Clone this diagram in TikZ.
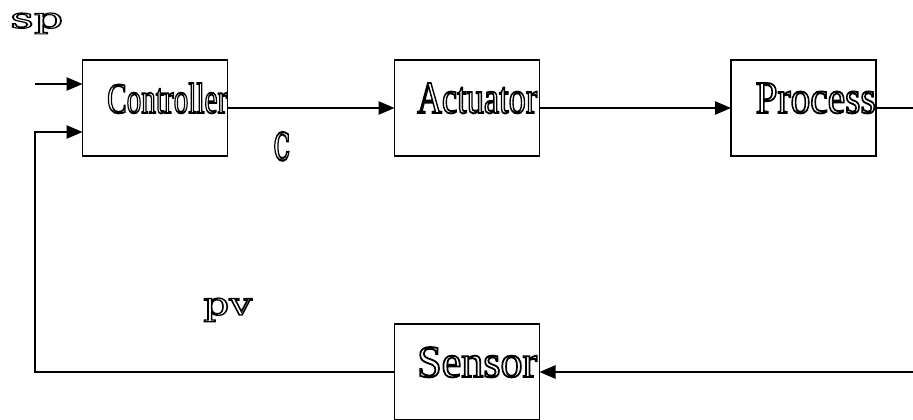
\documentclass[tikz,border=0pt]{standalone}
\usepackage{fontspec}
\setmainfont{Liberation Serif}
\newfontfamily\lblfont{DejaVu Serif}
\usetikzlibrary{arrows.meta,calc}

% hollow lettering: glyphs stroked only (text render mode 1), state saved and restored
\newcommand{\hollow}[2][0.4]{%
  \special{pdf:literal direct q 1 Tr #1 w}#2\special{pdf:literal direct Q}}
\newcommand{\blocktext}[1]{\resizebox{90pt}{22.5pt}{\rmfamily\hollow{#1}}}
\newcommand{\lbltext}[3]{\resizebox{#1}{#2}{\lblfont\hollow[0.4]{#3}}}

\begin{document}
\begin{tikzpicture}[x=0.75pt,y=-0.75pt,
  blk/.style={draw,line width=1.3pt,minimum width=108.75pt,minimum height=72pt,inner sep=0pt,outer sep=0pt},
  txt/.style={inner sep=0pt,anchor=base east},
  lbl/.style={inner sep=0pt,anchor=base west},
  flow/.style={line width=1.2pt,-{Triangle[length=12pt,width=10pt]}}]
\useasboundingbox (0,0) rectangle (913,419);
\clip (0,0) rectangle (913,419);

% blocks
\node[blk] (ctrl) at (155,108) {};
\node[blk] (act)  at (467,108) {};
\node[blk] (proc) at (803.5,108) {};
\node[blk] (sens) at (467,372) {};

% block captions
\node[txt] (ctrltxt) at ($(ctrl.east)+(0,5)$)  {\blocktext{Controller}};
\node[txt] (acttxt)  at ($(act.east)+(-2,5)$)  {\blocktext{Actuator}};
\node[txt] (proctxt) at ($(proc.east)+(0,5)$)  {\blocktext{Process}};
\node[txt] (senstxt) at ($(sens.east)+(-2,5)$) {\blocktext{Sensor}};

% signal labels
\node[lbl] (sp) at (10,28)  {\lbltext{39.75pt}{11.25pt}{sp}};
\node[lbl] (c)  at (273,160) {\lbltext{12.75pt}{21pt}{c}};
\node[lbl] (pv) at (203,315) {\lbltext{36.75pt}{12.75pt}{pv}};

% connectors
\coordinate (spin) at (35,84);
\coordinate (outR) at (925,108);
\coordinate (fbR)  at (925,372);
\coordinate (fbL)  at (35,132);
\coordinate (fbin) at ($(ctrl.west)+(0,24)$);

\draw[flow] (spin) -- (ctrl.west |- spin);
\draw[flow] (ctrl.east) -- (act.west);
\draw[flow] (act.east) -- (proc.west);
\draw[flow] (proc.east) -- (outR) -- (fbR) -- (sens.east);
\draw[flow] (sens.west) -| (fbL) -- (fbin);
\end{tikzpicture}
\end{document}
